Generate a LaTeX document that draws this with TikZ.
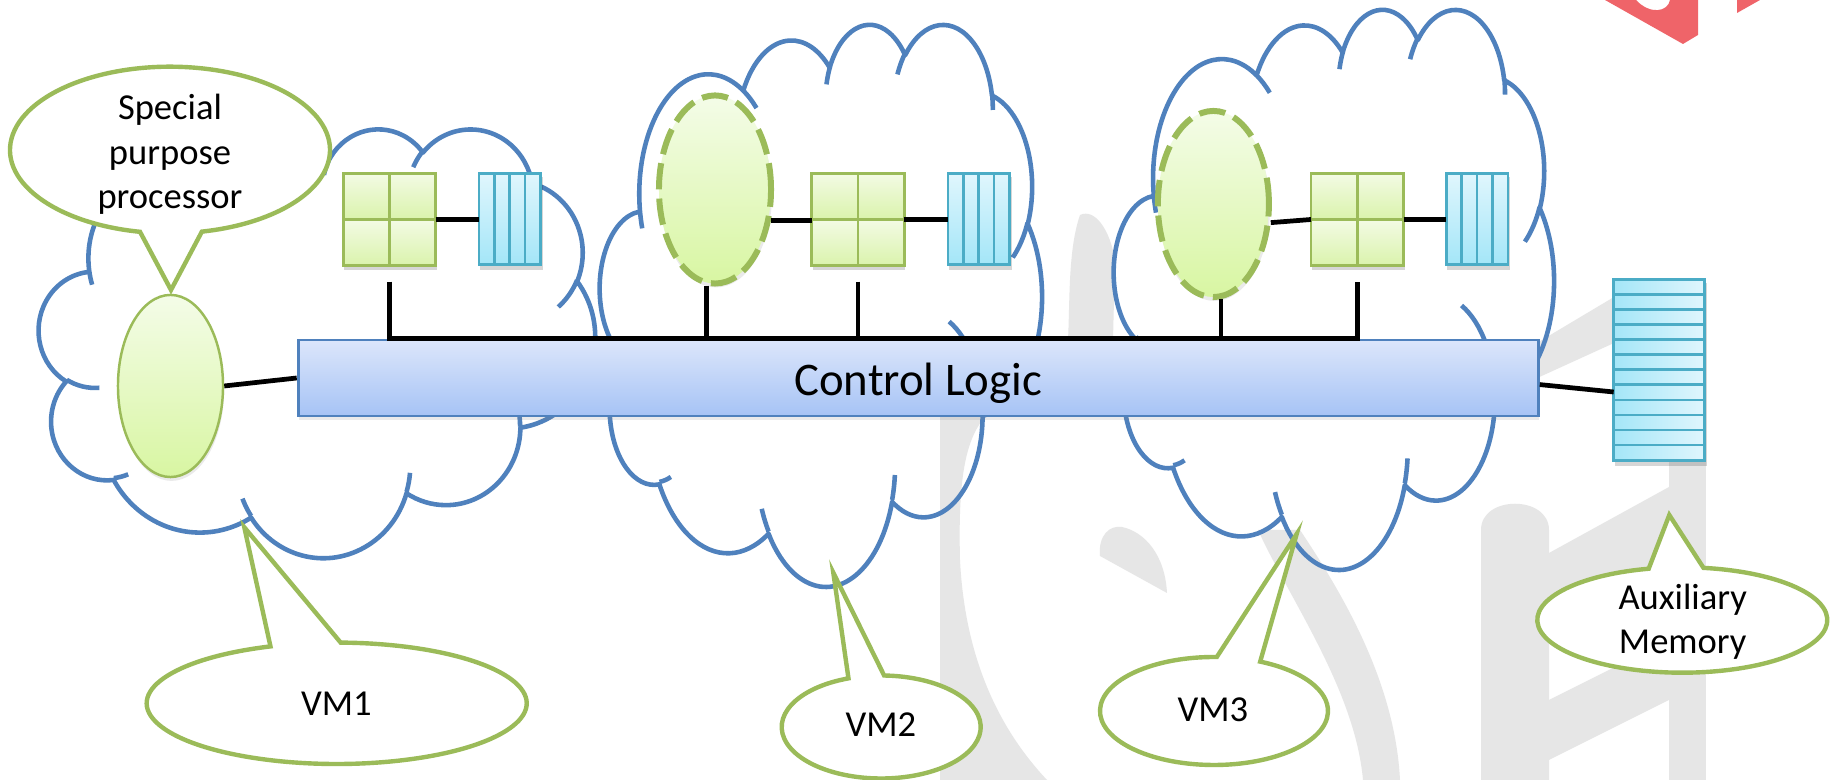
\documentclass[tikz,border=0pt]{standalone}
\usepackage{fontspec}
\setmainfont{Carlito}
\usetikzlibrary{shapes.geometric,calc,shadows}

\definecolor{vmblue}{HTML}{4F81BD}
\definecolor{vmgreen}{HTML}{9BBB59}
\definecolor{vmcyan}{HTML}{4BACC6}
\definecolor{barTop}{HTML}{DCE6FB}
\definecolor{barBot}{HTML}{A6C3F5}
\definecolor{cellTop}{HTML}{F3FBE4}
\definecolor{cellBot}{HTML}{DAF3AC}
\definecolor{colTop}{HTML}{E0F6FD}
\definecolor{colBot}{HTML}{A4E6F8}
\definecolor{ovalTop}{HTML}{F4FCE8}
\definecolor{ovalBot}{HTML}{D8F6A2}
\definecolor{markRed}{HTML}{EF6469}
\definecolor{markGray}{HTML}{E6E6E6}

% elliptical arc whose angles are measured along the ray from the centre
\newcommand\cldarc[4]{%
  \pgfextra{%
    \pgfmathparse{atan2((#1)*sin(#3),(#2)*cos(#3))}\xdef\cldTs{\pgfmathresult}%
    \pgfmathparse{atan2((#1)*sin((#3)+(#4)),(#2)*cos((#3)+(#4)))}\xdef\cldTe{\pgfmathresult}%
    \pgfmathparse{\cldTe-\cldTs}\xdef\cldD{\pgfmathresult}%
    \pgfmathparse{\cldD-360*round((\cldD-(#4))/360)}\xdef\cldD{\pgfmathresult}%
  }%
  arc[start angle=\cldTs, delta angle=\cldD, x radius=#1, y radius=#2]}

% cloud outline in a 432 x 432 box, placed at (x0,y0) with size w x h
\newcommand\vmcloud[4]{%
  \pgfmathsetmacro\cldsx{#3/432*0.01}%
  \pgfmathsetmacro\cldsy{-#4/432*0.01}%
  \begin{scope}[shift={(#1,#2)}, x={(\cldsx cm,0cm)}, y={(0cm,\cldsy cm)}]
    \draw[cloudline] (39.00,143.70)
      \cldarc{67.53}{91.90}{-190.48748}{123.78053}
      \cldarc{53.33}{72.67}{-144.10238}{89.94523}
      \cldarc{43.65}{59.45}{-145.80792}{99.72302}
      \cldarc{48.57}{65.95}{-130.98607}{117.24173}
      \cldarc{53.33}{72.73}{-78.70888}{109.02692}
      \cldarc{67.75}{92.20}{-46.26725}{130.269}
      \cldarc{57.85}{78.67}{0.62502}{114.03333}
      \cldarc{67.52}{92.15}{22.4516}{115.17255}
      \cldarc{77.20}{105.43}{66.24263}{75.71102}
      \cldarc{43.60}{59.18}{-274.94208}{146.73557}
      \cldarc{43.45}{59.45}{-246.8285}{152.51885}
      -- cycle
      (46.93,261.77) \cldarc{43.45}{59.45}{86.742}{26.4295}
      (69.28,348.99) \cldarc{43.60}{59.18}{73.61047}{11.44747}
      (164.78,390.90) \cldarc{67.52}{92.15}{137.62415}{14.0811}
      (288.27,347.51) \cldarc{67.52}{92.15}{6.45327}{15.99835}
      (341.29,229.54) \cldarc{57.85}{78.67}{-70.29235}{70.91737}
      (417.98,153.54) \cldarc{53.33}{72.73}{30.31803}{27.7515}
      (383.24,54.26) \cldarc{48.57}{65.95}{-13.74433}{14.8589}
      (290.78,39.52) \cldarc{48.57}{65.95}{-149.18145}{18.19537}
      (221.41,47.20) \cldarc{43.65}{59.45}{-163.49427}{17.68635}
      (140.00,51.92) \cldarc{67.53}{91.90}{-66.70695}{12.31935}
      (41.27,157.89) \cldarc{67.53}{91.90}{157.65435}{11.85817};
  \end{scope}}

\tikzset{
  cloudline/.style={draw=vmblue, line width=1.3pt, line join=round},
  bubble/.style={draw=vmgreen, line width=1.25pt, fill=white, line join=miter},
  bubbletext/.style={align=center, inner sep=0pt, font=\fontsize{10.4pt}{12.75pt}\selectfont},
  conn/.style={draw=black, line width=1.35pt, line join=miter},
  softshadow/.style={drop shadow={opacity=0.16, shadow xshift=0.3pt, shadow yshift=-1.1pt}},
  ctrlbar/.style={rectangle, draw=vmblue, line width=0.8pt, top color=barTop, bottom color=barBot,
    minimum width=12.395cm, minimum height=0.76cm, inner sep=0pt, softshadow,
    text height=0.36cm, text depth=0cm, font=\fontsize{13.3pt}{16pt}\selectfont},
  oval/.style={ellipse, draw=vmgreen, line width=0.7pt, top color=ovalTop, bottom color=ovalBot,
    inner sep=0pt, softshadow},
  dashedoval/.style={oval, line width=1.7pt, dash pattern=on 7.5pt off 2.6pt},
  gridbox/.style={rectangle, minimum width=0.91cm, minimum height=0.91cm, inner sep=0pt},
  colbox/.style={rectangle, minimum width=0.615cm, minimum height=0.91cm, inner sep=0pt},
  auxbox/.style={rectangle, minimum width=0.906cm, minimum height=1.81cm, inner sep=0pt},
  cell/.style={draw=vmgreen, line width=0.75pt, top color=cellTop, bottom color=cellBot},
  colcell/.style={draw=vmcyan, line width=0.75pt, top color=colTop, bottom color=colBot},
  auxrow/.style={draw=vmcyan, line width=0.75pt, left color=colBot, right color=colTop},
}

\begin{document}
\begin{tikzpicture}[x=0.01cm, y=-0.01cm]
  % canvas
  \fill[white] (0,0) rectangle (1835,780);
  \useasboundingbox (0,0) rectangle (1835,780);

  % faint background emblem
  \fill[markGray] (1080,215) .. controls (1068,250) and (1070,300) .. (1068,340)
    -- (940,417) -- (940,780) -- (1047,780)
    .. controls (1000,730) and (965,660) .. (960,560)
    .. controls (958,480) and (965,440) .. (985,417)
    -- (1113,340) -- (1115,260) .. controls (1110,230) and (1095,208) .. (1080,215) -- cycle;
  \fill[markGray] (1100,556) .. controls (1098,535) and (1110,525) .. (1122,527)
    .. controls (1145,532) and (1165,555) .. (1167,593) -- cycle;
  \fill[markGray] (1258,530) .. controls (1290,600) and (1355,690) .. (1363,780)
    -- (1400,780) .. controls (1395,680) and (1340,590) .. (1300,530) -- cycle;
  \fill[markGray] (1481,780) -- (1481,530) .. controls (1481,495) and (1549,495) .. (1549,530)
    -- (1549,780) -- cycle;
  \fill[markGray] (1549,553) -- (1669,487) -- (1669,560) -- (1549,627) -- cycle;
  \fill[markGray] (1669,292) -- (1706,292) -- (1706,780) -- (1669,780) -- cycle;
  \fill[markGray] (1500,365) -- (1614,297) -- (1680,290) -- (1680,330) -- (1614,343)
    -- (1500,395) -- cycle;
  \fill[markGray] (1549,700) -- (1669,640) -- (1669,700) -- (1549,760) -- cycle;

  % corner mark
  \fill[markRed] (1605,0) -- (1683,44) -- (1698,35) -- (1698,0) -- (1670,0)
    .. controls (1668,12) and (1650,15) .. (1636,0) -- cycle;
  \fill[markRed] (1737,0) -- (1760,0) -- (1737,13) -- cycle;

  % virtual machine clouds
  \vmcloud{39}{128}{556}{429}
  \vmcloud{600}{23}{442}{562}
  \vmcloud{1114}{8}{440}{560}

  % callouts
  \draw[bubble] (170,150) ++(100.8:160 and 83.3)
    arc[start angle=100.8, delta angle=337.7, x radius=160, y radius=83.3] -- (171,290) -- cycle;
  \node[bubbletext, anchor=base] (t0) at (170,209) {Special\\purpose\\processor};

  \draw[bubble] (336.7,703.3) ++(249.6:190 and 60.7)
    arc[start angle=249.6, delta angle=-338.4, x radius=190, y radius=60.7] -- (244.3,527.3) -- cycle;
  \node[bubbletext, anchor=base] (t1) at (336.5,716) {VM1};

  \draw[bubble] (881.2,727) ++(250.8:99.5 and 51.5)
    arc[start angle=250.8, delta angle=-339.1, x radius=99.5, y radius=51.5] -- (833.3,572.7) -- cycle;
  \node[bubbletext, anchor=base] (t2) at (880.8,736.7) {VM2};

  \draw[bubble] (1214,711) ++(271.4:114 and 54)
    arc[start angle=271.4, delta angle=-337.5, x radius=114, y radius=54] -- (1296.7,534) -- cycle;
  \node[bubbletext, anchor=base] (t3) at (1213,721.7) {VM3};

  \draw[bubble] (1682.3,620) ++(256.6:145 and 52.7)
    arc[start angle=256.6, delta angle=-338.2, x radius=145, y radius=52.7] -- (1669.3,515) -- cycle;
  \node[bubbletext, anchor=base] (t4) at (1682.7,654) {Auxiliary\\Memory};

  % control logic
  \node[ctrlbar] (ctrl) at (918.25,378) {Control Logic};

  % processors
  \node[oval, minimum width=1.05cm, minimum height=1.82cm] (pp) at (170.5,386) {};
  \node[dashedoval, minimum width=1.12cm, minimum height=1.88cm] (e2) at (715,189.5) {};
  \node[dashedoval, minimum width=1.11cm, minimum height=1.86cm] (e3) at (1213.4,204) {};

  % register grids
  \node[gridbox] (g1) at (389.5,219.5) {};
  \node[gridbox] (g2) at (858,219.5) {};
  \node[gridbox] (g3) at (1357.3,219.5) {};
  \foreach \g in {g1,g2,g3}{
    \fill[black, opacity=0.16] ([shift={(1,4)}]\g.north west) rectangle ([shift={(1,4)}]\g.south east);
    \shadedraw[cell] (\g.north west) rectangle (\g.center);
    \shadedraw[cell] (\g.north) rectangle (\g.east);
    \shadedraw[cell] (\g.west) rectangle (\g.south);
    \shadedraw[cell] (\g.center) rectangle (\g.south east);
  }

  % local memories
  \node[colbox] (c1) at (510.3,219.5) {};
  \node[colbox] (c2) at (979.5,219.5) {};
  \node[colbox] (c3) at (1477.8,219.5) {};
  \foreach \c in {c1,c2,c3}{
    \fill[black, opacity=0.16] ([shift={(1,4)}]\c.north west) rectangle ([shift={(1,4)}]\c.south east);
    \foreach \i in {0,1,2,3}
      \shadedraw[colcell] ($(\c.north west)+(\i*15.375,0)$) rectangle ++(15.375,91);
  }

  % auxiliary memory
  \node[auxbox] (aux) at (1659.7,370.5) {};
  \fill[black, opacity=0.16] ([shift={(1,4)}]aux.north west) rectangle ([shift={(1,4)}]aux.south east);
  \foreach \i in {0,...,11}
    \shadedraw[auxrow] ($(aux.north west)+(0,\i*15.083)$) rectangle ++(90.6,15.083);

  % links
  \draw[conn] (pp.east) -- (ctrl.west);
  \draw[conn] (g1.east) -- (c1.west);
  \draw[conn] (e2.-29) -- (e2.-29 -| g2.west);
  \draw[conn] (g2.east) -- (c2.west);
  \draw[conn] (e3.-18) -- (g3.west);
  \draw[conn] (g3.east) -- (c3.west);
  \draw[conn] ($(ctrl.east)+(0,6.6)$) -- ($(aux.west)+(0,21.5)$);

  % bus on top of the control logic
  \coordinate (busL) at (g1.south |- ctrl.north);
  \coordinate (busR) at (g3.south |- ctrl.north);
  \coordinate (g1foot) at ($(g1.south)+(0,16)$);
  \coordinate (g2foot) at ($(g2.south)+(0,16)$);
  \coordinate (g3foot) at ($(g3.south)+(0,16)$);
  \coordinate (e2foot) at ($(e2.south)+(-8.3,-1)$);
  \coordinate (e3foot) at ($(e3.south)+(7.6,-1)$);
  \draw[conn] (g1foot) -- (busL) -- (busR) -- (g3foot);
  \draw[conn] (g2foot) -- (g2foot |- ctrl.north);
  \draw[conn] (e2foot) -- (e2foot |- ctrl.north);
  \draw[conn] (e3foot) -- (e3foot |- ctrl.north);
\end{tikzpicture}
\end{document}
